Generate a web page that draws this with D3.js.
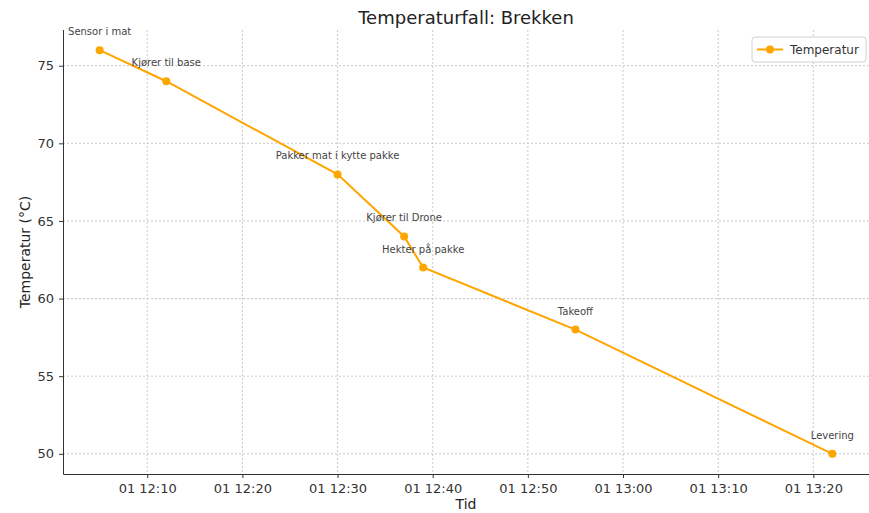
<!DOCTYPE html>
<html>
<head>
<meta charset="utf-8">
<script src="https://cdn.jsdelivr.net/npm/d3@7"></script>
<style>
  body { margin: 0; background: #fff; }
  text { font-family: "DejaVu Sans", sans-serif; }
</style>
</head>
<body>
<div id="chart"></div>
<script>
// data
const times = ["12:05", "12:12", "12:30", "12:37", "12:39", "12:55", "13:22"];
const temps = [76, 74, 68, 64, 62, 58, 50];
const events = ["Sensor i mat", "Kjører til base", "Pakker mat i kytte pakke",
  "Kjører til Drone", "Hekter på pakke", "Takeoff", "Levering"];
const yTicks = [50, 55, 60, 65, 70, 75];

const W = 869, H = 513;
const margin = { top: 30, right: 0, bottom: 39, left: 63 },
  width = W - margin.left - margin.right,
  height = H - margin.top - margin.bottom;

const parse = (t) => {
  const [h, m] = t.split(":").map(Number);
  return new Date(2024, 0, 1, h, m);
};
const data = times.map((t, i) => ({ t: parse(t), v: temps[i], label: events[i] }));

const svg = d3.select("#chart").append("svg")
  .attr("width", W).attr("height", H);

const g = svg.append("g")
  .attr("transform", `translate(${margin.left},${margin.top})`);

// matplotlib-ish 5% margins
const tExt = d3.extent(data, d => d.t);
const tPad = (tExt[1] - tExt[0]) * 0.05;
const x = d3.scaleTime()
  .domain([new Date(+tExt[0] - tPad), new Date(+tExt[1] + tPad)])
  .range([0, width]);

const vPad = (76 - 50) * 0.05;
const y = d3.scaleLinear()
  .domain([50 - vPad, 76 + vPad])
  .range([height, 0]);

const xTicks = d3.timeMinute.every(10).range(parse("12:10"), parse("13:21"));

// grid
g.append("g").selectAll("line").data(xTicks).join("line")
  .attr("x1", d => x(d)).attr("x2", d => x(d))
  .attr("y1", 0).attr("y2", height)
  .attr("stroke", "#c4c4c4").attr("stroke-width", 0.9)
  .attr("stroke-dasharray", "2,2");
g.append("g").selectAll("line").data(yTicks).join("line")
  .attr("x1", 0).attr("x2", width)
  .attr("y1", d => y(d)).attr("y2", d => y(d))
  .attr("stroke", "#c4c4c4").attr("stroke-width", 0.9)
  .attr("stroke-dasharray", "2,2");

// axes
const xAxis = g.append("g")
  .attr("transform", `translate(0,${height})`)
  .call(d3.axisBottom(x).tickValues(xTicks).tickFormat(d3.timeFormat("%d %H:%M"))
    .tickSize(4).tickPadding(6));
const yAxis = g.append("g")
  .call(d3.axisLeft(y).tickValues(yTicks).tickSize(4).tickPadding(5));

[xAxis, yAxis].forEach(a => {
  a.select(".domain").remove();
  a.selectAll(".tick line").attr("stroke", "#333");
  a.selectAll(".tick text").attr("fill", "#333")
    .style("font-size", "13px").style("font-family", "DejaVu Sans, sans-serif");
});

// spines: left and bottom only
g.append("path")
  .attr("d", `M0.5,0V${height + 0.5}H${width}`)
  .attr("fill", "none").attr("stroke", "#333");

// line
const line = d3.line().x(d => x(d.t)).y(d => y(d.v));
g.append("path").datum(data)
  .attr("fill", "none")
  .attr("stroke", "#FFA500")
  .attr("stroke-width", 2)
  .attr("d", line);

g.append("g").selectAll("circle").data(data).join("circle")
  .attr("cx", d => x(d.t)).attr("cy", d => y(d.v))
  .attr("r", 4).attr("fill", "#FFA500");

// annotations
g.append("g").selectAll("text").data(data).join("text")
  .attr("x", d => x(d.t)).attr("y", d => y(d.v) - 15)
  .attr("text-anchor", "middle")
  .attr("fill", "#444")
  .style("font-size", "10px")
  .text(d => d.label);

// titles
svg.append("text")
  .attr("x", margin.left + 403).attr("y", 24)
  .attr("text-anchor", "middle")
  .attr("fill", "#222")
  .style("font-size", "18px")
  .text("Temperaturfall: Brekken");

svg.append("text")
  .attr("x", margin.left + 403).attr("y", 509)
  .attr("text-anchor", "middle")
  .attr("fill", "#222")
  .style("font-size", "14px")
  .text("Tid");

svg.append("text")
  .attr("transform", `translate(30,${margin.top + height / 2}) rotate(-90)`)
  .attr("text-anchor", "middle")
  .attr("fill", "#222")
  .style("font-size", "14px")
  .text("Temperatur (°C)");

// legend
const lg = svg.append("g").attr("transform", "translate(752,37)");
lg.append("rect")
  .attr("width", 114).attr("height", 25).attr("rx", 3)
  .attr("fill", "#fff").attr("stroke", "#d0d0d0");
lg.append("line")
  .attr("x1", 5).attr("x2", 31).attr("y1", 12.5).attr("y2", 12.5)
  .attr("stroke", "#FFA500").attr("stroke-width", 2);
lg.append("circle").attr("cx", 18).attr("cy", 12.5).attr("r", 4).attr("fill", "#FFA500");
lg.append("text")
  .attr("x", 38).attr("y", 17)
  .attr("fill", "#333")
  .style("font-size", "12px")
  .text("Temperatur");
</script>
</body>
</html>
